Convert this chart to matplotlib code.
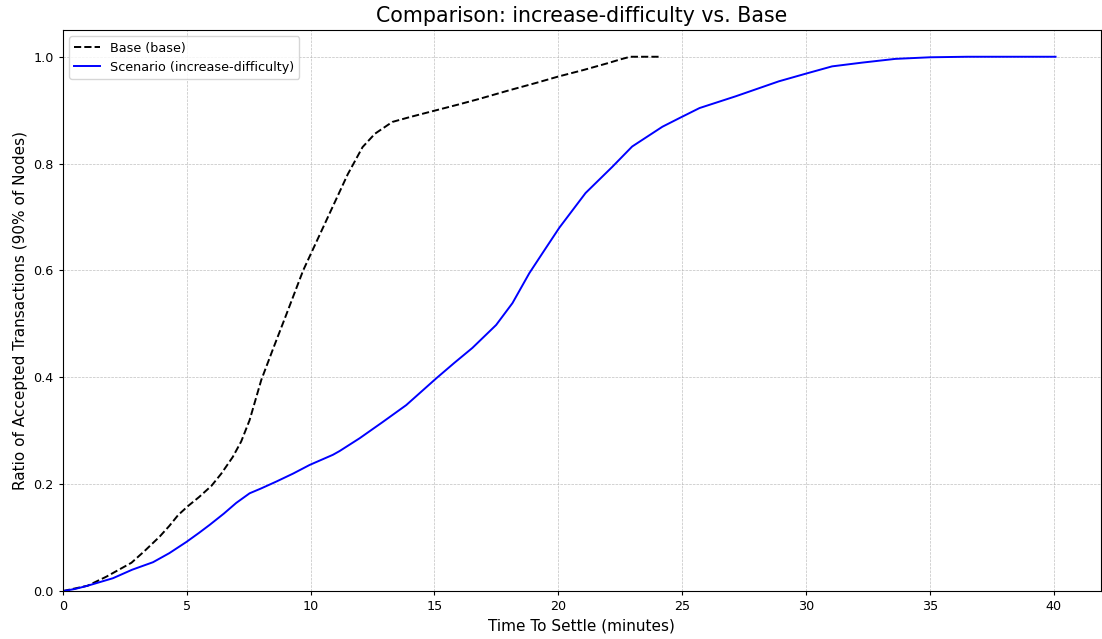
# Settle-time CDF: increase-difficulty scenario vs. base

import numpy as np
import matplotlib.pyplot as plt

# Base run (minutes, ratio of accepted transactions)
base_t = [0, 1, 1.76, 2.77, 3.3, 3.91, 4.3, 4.65, 5.05, 5.5, 6.0, 6.4, 6.86, 7.2,
          7.54, 8.01, 8.5, 9.0, 9.7, 10.03, 10.5, 11.0, 11.5, 12.1, 12.6, 13.3,
          14.0, 15.08, 16.0, 16.8, 18.0, 19.1, 20.0, 21.0, 22.0, 22.5, 22.9, 23.5, 24.07]
base_v = [0, 0.01, 0.027, 0.053, 0.075, 0.102, 0.122, 0.142, 0.159, 0.176, 0.197, 0.22,
          0.251, 0.28, 0.32, 0.395, 0.455, 0.515, 0.6, 0.633, 0.68, 0.73, 0.78, 0.831,
          0.856, 0.878, 0.887, 0.90, 0.911, 0.921, 0.937, 0.951, 0.963, 0.975, 0.988,
          0.995, 1.0, 1.0, 1.0]

# Scenario run (increase-difficulty)
scen_t = [0, 0.5, 1.0, 2.02, 2.8, 3.64, 4.3, 4.99, 5.5, 5.93, 6.5, 7.0, 7.54, 8.0,
          8.62, 9.3, 9.96, 10.9, 11.17, 11.98, 12.9, 13.86, 15.07, 15.8, 16.53, 17.49,
          18.15, 18.83, 19.44, 20.04, 21.1, 22.18, 22.98, 24.2, 24.88, 25.7, 27.16,
          28.9, 30.04, 31.05, 32.26, 33.6, 35.0, 36.5, 38.0, 40.07]
scen_v = [0, 0.004, 0.01, 0.024, 0.04, 0.054, 0.071, 0.092, 0.109, 0.124, 0.145, 0.165,
          0.183, 0.192, 0.205, 0.22, 0.236, 0.255, 0.262, 0.286, 0.316, 0.348, 0.398,
          0.427, 0.455, 0.498, 0.539, 0.595, 0.638, 0.68, 0.745, 0.794, 0.832, 0.869,
          0.885, 0.904, 0.926, 0.954, 0.969, 0.982, 0.989, 0.996, 0.999, 1.0, 1.0, 1.0]

plt.rcParams['font.size'] = 9.2
plt.rcParams['xtick.major.size'] = 3.2
plt.rcParams['ytick.major.size'] = 3.2

fig = plt.figure(figsize=(11.02, 6.39), dpi=100)
ax = fig.add_axes([0.057, 0.075, 0.942, 0.878])

ax.plot(base_t, base_v, 'k--', linewidth=1.4, label='Base (base)')
ax.plot(scen_t, scen_v, 'b-', linewidth=1.4, label='Scenario (increase-difficulty)')

ax.set_xlim(0, 41.9)
ax.set_ylim(0, 1.05)
ax.grid(True, linestyle='--', linewidth=0.5, alpha=0.8)
ax.set_xlabel('Time To Settle (minutes)', fontsize=11)
ax.set_ylabel('Ratio of Accepted Transactions (90% of Nodes)', fontsize=11)
ax.set_title('Comparison: increase-difficulty vs. Base', fontsize=14.8)
ax.legend(loc='upper left')

fig.savefig('out.png', dpi=100)
plt.close(fig)
